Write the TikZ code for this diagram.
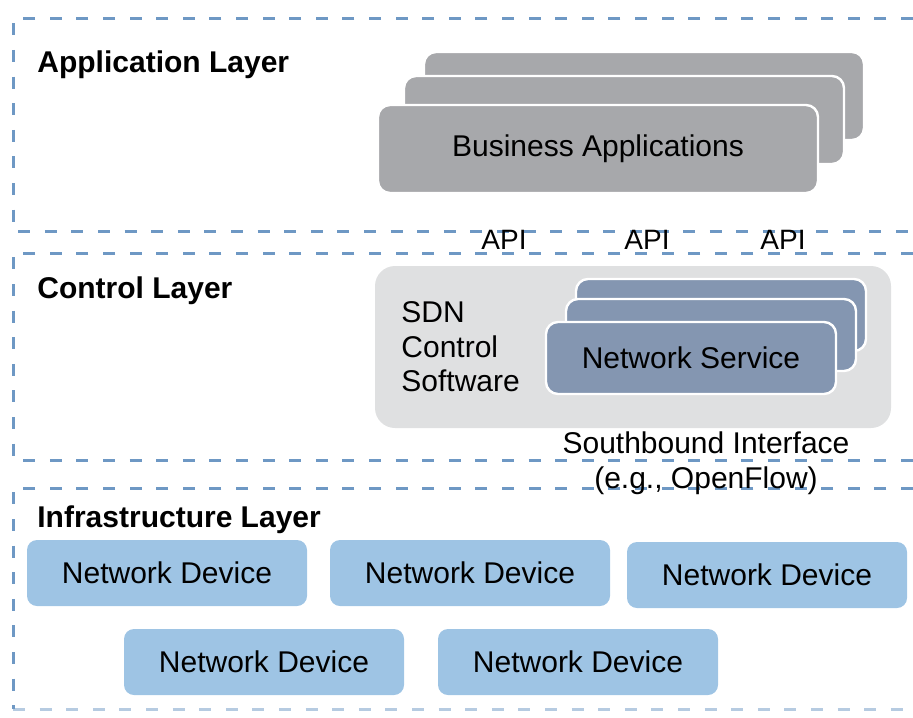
\documentclass[tikz,border=0pt]{standalone}
\usepackage{fontspec}
\setmainfont{Liberation Sans}
\usepackage{tikz}
\usepackage{xcolor}

\definecolor{layerblue}{RGB}{110,152,196}
\definecolor{appgray}{RGB}{167,168,171}
\definecolor{ctrlgray}{RGB}{223,224,225}
\definecolor{servblue}{RGB}{132,150,177}
\definecolor{devblue}{RGB}{158,196,228}

\begin{document}
\begin{tikzpicture}[x=0.5pt, y=-0.5pt,
        layerline/.style={draw=layerblue, line width=1.5pt, dash pattern=on 6pt off 7.3pt},
        layername/.style={anchor=base west, inner sep=0pt, font=\bfseries\fontsize{15}{18}\selectfont},
        txt/.style={inner sep=0pt, font=\fontsize{15}{17.25}\selectfont},
        appbox/.style={draw=white, line width=1.2pt, rounded corners=6pt, fill=appgray, minimum width=220pt, minimum height=44pt, txt},
        servbox/.style={draw=white, line width=1.2pt, rounded corners=6pt, fill=servblue, minimum width=145pt, minimum height=36pt, txt},
        devbox/.style={rounded corners=5pt, fill=devblue, minimum width=140pt, minimum height=33pt, txt}]
        \useasboundingbox (0,0) rectangle (913,717);

        % Layer frames
        \draw[layerline] (913,19) -- (13,19) -- (13,231) -- (913,231);
        \draw[layerline] (913,253) -- (13,253) -- (13,460) -- (913,460);
        \draw[layerline] (913,488) -- (13,488) -- (13,709);
        \draw[layerline, draw opacity=0.5] (13,709) -- (913,709);

        % Application layer
        \node[layername] (apptitle) at (37,73) {Application Layer};
        \node[appbox] (app3) at (644,96) {};
        \node[appbox] (app2) at (624,120) {};
        \node[appbox] (app1) at (598,149) {Business Applications};

        % APIs
        \node[txt, font=\fontsize{14}{16}\selectfont] (api1) at (504,240) {API};
        \node[txt, font=\fontsize{14}{16}\selectfont] (api2) at (647,240) {API};
        \node[txt, font=\fontsize{14}{16}\selectfont] (api3) at (783,240) {API};

        % Control layer
        \node[layername] (ctrltitle) at (37,298) {Control Layer};
        \node[fill=ctrlgray, rounded corners=10pt, minimum width=258pt, minimum height=81pt] (ctrl) at (633,347) {};
        \node[txt, align=left, anchor=west] (sdn) at (401,347) {SDN\\Control\\Software};
        \node[servbox] (serv3) at (721,315) {};
        \node[servbox] (serv2) at (711,335) {};
        \node[servbox] (serv1) at (691,358) {Network Service};

        % Southbound interface
        \node[txt, align=center] (south) at (706,463) {Southbound Interface\\(e.g., OpenFlow)};

        % Infrastructure layer
        \node[layername] (infratitle) at (37,527) {Infrastructure Layer};
        \node[devbox] (dev1) at (167,573) {Network Device};
        \node[devbox] (dev2) at (470,573) {Network Device};
        \node[devbox] (dev3) at (767,575) {Network Device};
        \node[devbox] (dev4) at (264,662) {Network Device};
        \node[devbox] (dev5) at (578,662) {Network Device};
\end{tikzpicture}
\end{document}
